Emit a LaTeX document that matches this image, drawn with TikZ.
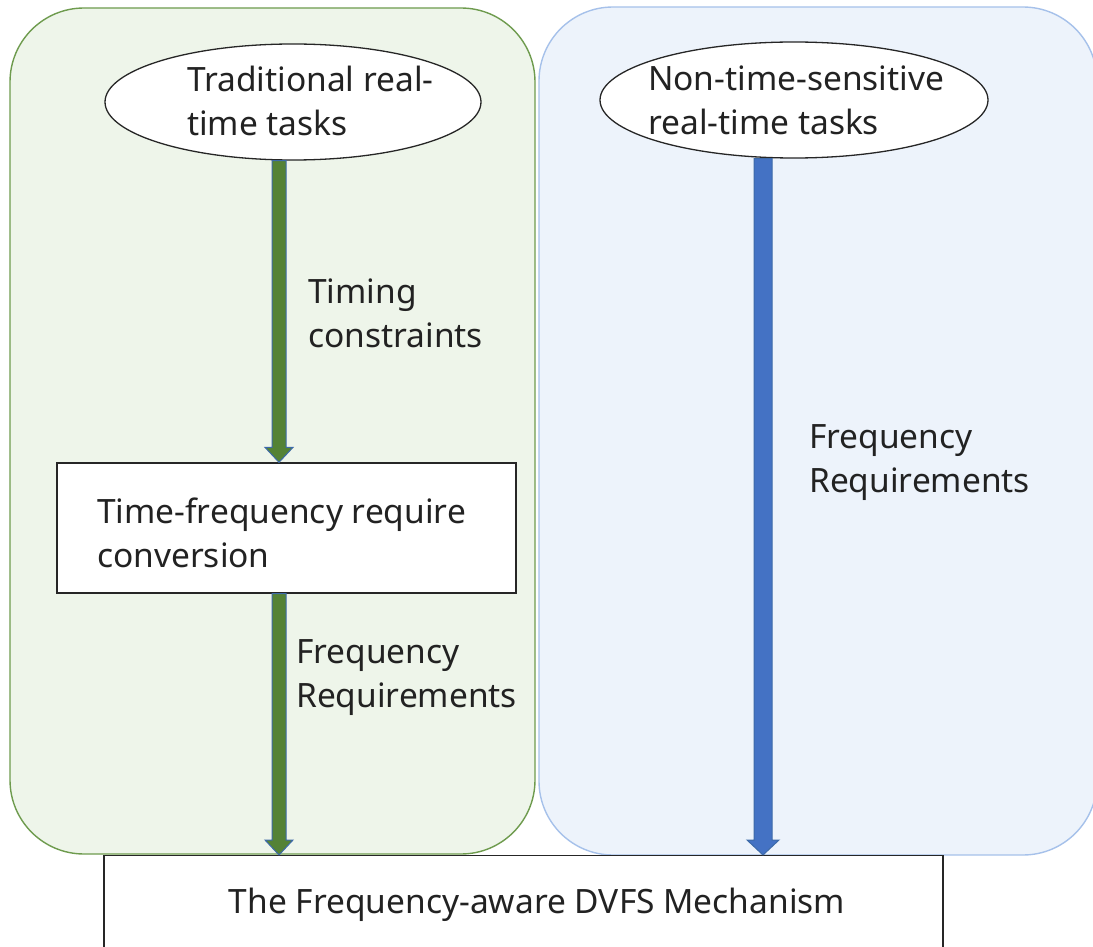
\documentclass[tikz,border=0pt]{standalone}
\usepackage{fontspec}
\setmainfont{Noto Sans}
\usetikzlibrary{shapes.geometric,calc}

\definecolor{grpfill}{HTML}{EEF5EA}
\definecolor{grpline}{HTML}{6E9B4E}
\definecolor{nsfill}{HTML}{EDF3FB}
\definecolor{nsline}{HTML}{A6C1EA}
\definecolor{arrgreen}{HTML}{548235}
\definecolor{arrblue}{HTML}{4472C4}
\definecolor{arredge}{HTML}{3D6AA8}
\definecolor{txt}{HTML}{222222}

\tikzset{
  panel/.style={line width=1.4pt, rounded corners=74pt},
  taskoval/.style={ellipse, draw=black!85, fill=white, line width=1.3pt, inner sep=0pt},
  procbox/.style={rectangle, draw=black!85, fill=white, line width=1.3pt, inner sep=0pt},
  lbl/.style={text=txt, inner sep=0pt, align=left, anchor=west,
    font=\fontsize{33.5}{44}\selectfont},
}

% vertical block arrow from #1 down to #2
% #3 half shaft width, #4 half head width, #5 head length, #6 fill colour
\newcommand{\blockarrow}[6]{%
  \path[fill=#6, draw=arredge, line width=1pt, line join=miter]
    let \p1=(#1), \p2=(#2) in
    (\x1-#3,\y1) -- (\x1-#3,\y2+#5) -- (\x1-#4,\y2+#5) -- (\x1,\y2)
    -- (\x1+#4,\y2+#5) -- (\x1+#3,\y2+#5) -- (\x1+#3,\y1) -- cycle;}

\begin{document}
\begin{tikzpicture}[x=1pt,y=-1pt]
\useasboundingbox (0,0) rectangle (1093,947);

% the two task groups
\draw[panel, fill=grpfill, draw=grpline] (10,8) rectangle (535,854);
\draw[panel, fill=nsfill, draw=nsline] (539,7) rectangle (1097,855);

% task sources
\node[taskoval, minimum width=376pt, minimum height=116pt] (trad) at (293,102) {};
\node[taskoval, minimum width=388pt, minimum height=116pt] (nts) at (794,100) {};

% conversion step and the DVFS mechanism
\node[procbox, minimum width=459pt, minimum height=130pt] (conv) at (286.5,528) {};
\node[procbox, minimum width=839pt, minimum height=130pt, anchor=north] (dvfs) at (523.5,855) {};

% arrow anchor points
\coordinate (a1top) at (trad.south -| 279,0);
\coordinate (a1bot) at (conv.north -| 279,0);
\coordinate (a2top) at (conv.south -| 279,0);
\coordinate (a2bot) at (dvfs.north -| 279,0);
\coordinate (a3top) at (nts.south -| 763,0);
\coordinate (a3bot) at (dvfs.north -| 763,0);

\blockarrow{a1top}{a1bot}{7pt}{14pt}{15pt}{arrgreen}
\blockarrow{a2top}{a2bot}{7pt}{14pt}{15pt}{arrgreen}
\blockarrow{a3top}{a3bot}{9pt}{16pt}{15pt}{arrblue}

% texts
\node[lbl] (tradtxt) at (187,101) {Traditional real-\\time tasks};
\node[lbl] (ntstxt) at (648,100) {Non-time-sensitive\\real-time tasks};
\node[lbl] (timing) at (308,313) {Timing\\constraints};
\node[lbl] (convtxt) at (97,533) {Time-frequency require\\conversion};
\node[lbl] (freqL) at (296,678) {Frequency\\Requirements};
\node[lbl] (freqR) at (809,463) {Frequency\\Requirements};
\node[lbl, anchor=center] (dvfstxt) at (537,905) {The Frequency-aware DVFS Mechanism};
\end{tikzpicture}
\end{document}
